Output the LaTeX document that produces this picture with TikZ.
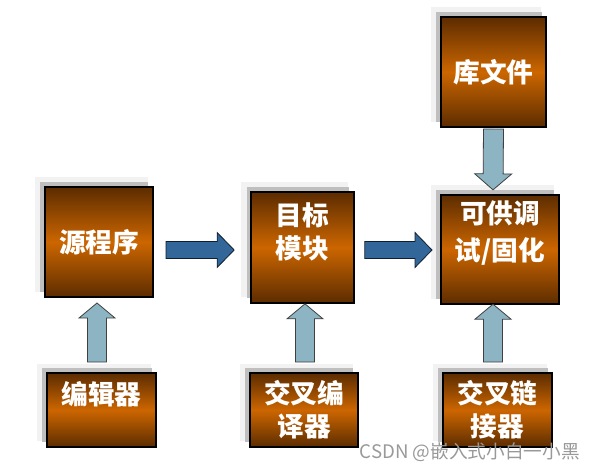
\documentclass[tikz,border=0pt]{standalone}
\usepackage{fontspec}
\newfontfamily\cjk{Noto Sans CJK SC}
\usepackage{tikz}
\usetikzlibrary{calc,shadows}

\definecolor{boxdark}{HTML}{5C2C00}
\definecolor{boxorange}{HTML}{CC6600}
\definecolor{flowblue}{HTML}{336699}
\definecolor{feedblue}{HTML}{8DB4C2}

% fat block arrow: style, from, to, half body, half head, head length
\newcommand{\fatarrow}[6]{%
\draw[#1] ($(#2)!#4!90:(#3)$) -- ($(#3)!#6!(#2)!#4!90:(#3)$) -- ($(#3)!#6!(#2)!#5!90:(#3)$) -- (#3) -- ($(#3)!#6!(#2)!#5!-90:(#3)$) -- ($(#3)!#6!(#2)!#4!-90:(#3)$) -- ($(#2)!#4!-90:(#3)$) -- cycle ;}

\tikzset{
 stage/.style={draw=black, line width=1.5pt, top color=boxdark, bottom color=boxdark, middle color=boxorange, text=white, font=\cjk\bfseries\fontsize{20}{25}\selectfont, align=center, inner sep=0pt, general shadow={fill=black!5, shadow xshift=-5.5pt, shadow yshift=5.5pt, shadow scale=1.04}, drop shadow={shadow xshift=-3.5pt, shadow yshift=4pt, fill=black!25, opacity=1}},
 flow/.style={draw=black!70!flowblue, fill=flowblue, line width=0.6pt},
 feed/.style={draw=black!75, fill=feedblue, line width=0.6pt}
}

\begin{document}
\begin{tikzpicture}[x=0.75pt,y=0.75pt,yscale=-1,xscale=1]
\useasboundingbox (0,0) rectangle (595,471);

%Shape: Boxes, top row
\node[stage, minimum width=81pt, minimum height=82.5pt] (src) at (99,242) {源程序};
\node[stage, minimum width=77pt, minimum height=83pt] (obj) at (302.5,247.5) {目标\\模块\\\mbox{}};
\node[stage, minimum width=79pt, minimum height=82.5pt] (lib) at (493.5,72) {库文件};
\node[stage, minimum width=88.5pt, minimum height=82pt] (out) at (500,249.5) {可供调\\[2.75pt]试/固化\\[2.75pt]\mbox{}};

%Shape: Boxes, tools row
\node[stage, minimum width=82pt, minimum height=55.5pt] (edit) at (101.5,410) {编辑器\\\mbox{}};
\node[stage, minimum width=81pt, minimum height=55.5pt] (cc) at (304,410) {交叉编\\译器};
\node[stage, minimum width=82pt, minimum height=55.5pt] (ld) at (497.5,410) {交叉链\\接器};

%Arrow ends
\coordinate (s1) at ($(src.east)+(12,8)$);
\coordinate (t1) at ($(obj.west)+(-16,2.5)$);
\coordinate (s2) at ($(obj.east)+(10,2.5)$);
\coordinate (t2) at ($(out.west)+(-8,0.5)$);
\coordinate (s3) at ($(edit.north)+(-4.5,-10)$);
\coordinate (t3) at ($(src.south)+(-2,5)$);
\coordinate (s4) at ($(cc.north)+(1,-10)$);
\coordinate (t4) at ($(obj.south)+(2.5,0)$);
\coordinate (s5) at ($(ld.north)+(-4.5,-10)$);
\coordinate (t5) at ($(out.south)+(-7,-1)$);
\coordinate (s6) at ($(lib.south)+(0,1)$);
\coordinate (t6) at ($(out.north)+(-7,-4)$);

%Block Arrows
\fatarrow{flow}{s1}{t1}{6.4pt}{13.1pt}{12.75pt}
\fatarrow{flow}{s2}{t2}{6.4pt}{13.1pt}{12.75pt}
\fatarrow{feed}{s3}{t3}{7.1pt}{13.5pt}{11.25pt}
\fatarrow{feed}{s4}{t4}{7.1pt}{13.5pt}{11.25pt}
\fatarrow{feed}{s5}{t5}{7.1pt}{13.5pt}{11.25pt}
\fatarrow{feed}{s6}{t6}{7.5pt}{13.9pt}{12pt}

% Text Node
\node[anchor=east, inner sep=0pt, text=black!40, font=\cjk\fontsize{14}{16}\selectfont] (mark) at (580,452) {CSDN @嵌入式小白一小黑};

\end{tikzpicture}
\end{document}
